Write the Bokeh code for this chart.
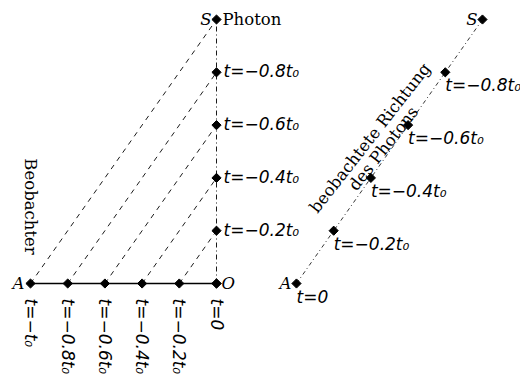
import math

from bokeh.core.properties import value
from bokeh.embed import file_html
from bokeh.models import ColumnDataSource, Range1d
from bokeh.plotting import figure
from bokeh.resources import INLINE

# Fractions of t0 before the observation at t = 0
steps = [0.0, 0.2, 0.4, 0.6, 0.8, 1.0]
observer_labels = ["t=0", "t=−0.2t₀", "t=−0.4t₀", "t=−0.6t₀", "t=−0.8t₀", "t=−t₀"]
photon_labels = ["", "t=−0.2t₀", "t=−0.4t₀", "t=−0.6t₀", "t=−0.8t₀", ""]
seen_labels = ["t=0", "t=−0.2t₀", "t=−0.4t₀", "t=−0.6t₀", "t=−0.8t₀", ""]

# Horizontal position where the right-hand sketch (observed direction) starts
right_origin = 0.43

MATH_FONT = value("DejaVu Sans")
TEXT_FONT = value("DejaVu Serif")
MATH_FS = "17px"
TEXT_FS = "16.5px"

p = figure(
    width=520, height=378,
    x_range=Range1d(-1.1613, 1.6344), y_range=Range1d(-0.3598, 1.072),
    x_axis_location=None, y_axis_location=None,
    toolbar_location=None, output_backend="svg",
    min_border=0, outline_line_color=None,
)
p.grid.visible = False

# --- left sketch: observer moving from A to O, photon moving from S down to O
obs = ColumnDataSource(dict(x=[-s for s in steps], y=[0.0] * len(steps), lab=observer_labels))
pho = ColumnDataSource(dict(x=[0.0] * len(steps), y=steps, lab=photon_labels))

# light rays from each photon position to the observer
p.segment(x0=[-s for s in steps[1:]], y0=[0.0] * 5, x1=[0.0] * 5, y1=steps[1:],
          line_color="black", line_width=0.9, line_dash="5 5")
# photon path
p.line(x=[0.0, 0.0], y=[steps[0], steps[-1]], line_color="black", line_width=0.9,
       line_dash="5 3 1 3")
# observer path
p.line(x=[-steps[-1], 0.0], y=[0.0, 0.0], line_color="black", line_width=1.5)

p.scatter("x", "y", source=obs, marker="square", angle=math.pi / 4, size=6.5,
          color="black")
p.scatter("x", "y", source=pho, marker="square", angle=math.pi / 4, size=6.5,
          color="black")

p.text("x", "y", text="lab", source=obs, angle=-math.pi / 2, text_font=MATH_FONT,
       text_font_style="italic", text_font_size=MATH_FS, text_align="left",
       text_baseline="middle", y_offset=15)
p.text("x", "y", text="lab", source=pho, text_font=MATH_FONT, text_font_style="italic",
       text_font_size=MATH_FS, text_align="left", text_baseline="middle", x_offset=7,
       y_offset=-1)

p.text(x=[-steps[-1]], y=[0.0], text=["A"], text_font=TEXT_FONT, text_font_style="italic",
       text_font_size=TEXT_FS, text_align="right", text_baseline="middle", x_offset=-6)
p.text(x=[0.0], y=[0.0], text=["O"], text_font=TEXT_FONT, text_font_style="italic",
       text_font_size=TEXT_FS, text_align="left", text_baseline="middle", x_offset=5)
p.text(x=[0.0], y=[steps[-1]], text=["S"], text_font=TEXT_FONT, text_font_style="italic",
       text_font_size=TEXT_FS, text_align="right", text_baseline="middle", x_offset=-5)
p.text(x=[0.0], y=[steps[-1]], text=["Photon"], text_font=TEXT_FONT,
       text_font_size=TEXT_FS, text_align="left", text_baseline="middle", x_offset=6)
p.text(x=[-steps[-1]], y=[0.0], text=["Beobachter"], text_font=TEXT_FONT,
       text_font_size=TEXT_FS, angle=-math.pi / 2, text_align="center",
       text_baseline="middle", y_offset=-77)

# --- right sketch: direction in which the photon is seen
seen = ColumnDataSource(dict(x=[right_origin + s for s in steps], y=steps, lab=seen_labels))
p.line(x=[right_origin, right_origin + steps[-1]], y=[steps[0], steps[-1]],
       line_color="black", line_width=0.8, line_dash="4 3 1 3")
p.scatter("x", "y", source=seen, marker="square", angle=math.pi / 4, size=6.5,
          color="black")
p.text("x", "y", text="lab", source=seen, text_font=MATH_FONT, text_font_style="italic",
       text_font_size=MATH_FS, text_align="left", text_baseline="top", x_offset=0,
       y_offset=3)
p.text(x=[right_origin], y=[0.0], text=["A"], text_font=TEXT_FONT,
       text_font_style="italic", text_font_size=TEXT_FS, text_align="right",
       text_baseline="middle", x_offset=-5)
p.text(x=[right_origin + steps[-1]], y=[steps[-1]], text=["S"], text_font=TEXT_FONT,
       text_font_style="italic", text_font_size=TEXT_FS, text_align="right",
       text_baseline="middle", x_offset=-5)

# two-line caption laid along the observed direction, just above the line
tilt = math.radians(52)
mid_x, mid_y = right_origin + 0.5, 0.5
p.text(x=[mid_x], y=[mid_y], text=["beobachtete Richtung"], text_font=TEXT_FONT,
       text_font_size=TEXT_FS, angle=tilt, text_align="center",
       text_baseline="alphabetic", x_offset=-19.4, y_offset=-13.5)
p.text(x=[mid_x], y=[mid_y], text=["des Photons"], text_font=TEXT_FONT,
       text_font_size=TEXT_FS, angle=tilt, text_align="center",
       text_baseline="alphabetic", x_offset=-6, y_offset=-3)

open("out.html", "w").write(file_html(p, INLINE))
